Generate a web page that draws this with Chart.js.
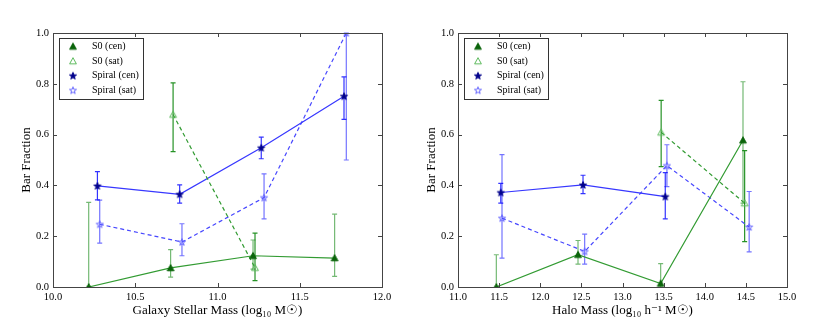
<!DOCTYPE html>
<html><head><meta charset="utf-8">
<script src="https://cdn.jsdelivr.net/npm/chart.js@4.4.1/dist/chart.umd.min.js"></script>
<style>
html,body{margin:0;padding:0;background:#fff;}
#wrap{width:830px;height:320px;display:flex;}
.cell{width:415px;height:320px;}
canvas{display:block;}
</style></head><body>
<div id="wrap"><div class="cell"><canvas id="c1" width="415" height="320"></canvas></div><div class="cell"><canvas id="c2" width="415" height="320"></canvas></div></div>
<script>
// ---------- data ----------
const seriesNames = ['S0 (cen)', 'S0 (sat)', 'Spiral (cen)', 'Spiral (sat)'];
const yTickValues = [0.0, 0.2, 0.4, 0.6, 0.8, 1.0];

// Left panel: galaxy stellar mass
const smTickValues = [10.0, 10.5, 11.0, 11.5, 12.0];
const smS0CenX = [10.217, 10.715, 11.216, 11.712];
const smS0CenY = [0.0, 0.075, 0.123, 0.114];
const smS0CenLo = [0.0, 0.039, 0.07, 0.042];
const smS0CenHi = [0.333, 0.147, 0.185, 0.287];
const smS0SatX = [10.73, 11.228];
const smS0SatY = [0.679, 0.076];
const smS0SatLo = [0.533, 0.025];
const smS0SatHi = [0.804, 0.212];
const smSpCenX = [10.27, 10.77, 11.266, 11.769];
const smSpCenY = [0.398, 0.365, 0.548, 0.751];
const smSpCenLo = [0.343, 0.33, 0.505, 0.66];
const smSpCenHi = [0.454, 0.402, 0.59, 0.827];
const smSpSatX = [10.284, 10.784, 11.283, 11.783];
const smSpSatY = [0.247, 0.177, 0.352, 1.0];
const smSpSatLo = [0.173, 0.123, 0.268, 0.5];
const smSpSatHi = [0.342, 0.249, 0.445, 1.0];

// Right panel: halo mass
const hmTickValues = [11.0, 11.5, 12.0, 12.5, 13.0, 13.5, 14.0, 14.5, 15.0];
const hmS0CenX = [11.466, 12.459, 13.464, 14.465];
const hmS0CenY = [0.0, 0.127, 0.014, 0.578];
const hmS0CenLo = [0.0, 0.09, 0.0, 0.33];
const hmS0CenHi = [0.127, 0.183, 0.092, 0.808];
const hmS0SatX = [13.47, 14.485];
const hmS0SatY = [0.609, 0.33];
const hmS0SatLo = [0.474, 0.179];
const hmS0SatHi = [0.735, 0.537];
const hmSpCenX = [11.52, 12.52, 13.52];
const hmSpCenY = [0.372, 0.402, 0.356];
const hmSpCenLo = [0.33, 0.368, 0.268];
const hmSpCenHi = [0.408, 0.44, 0.45];
const hmSpSatX = [11.535, 12.54, 13.54, 14.54];
const hmSpSatY = [0.271, 0.14, 0.478, 0.236];
const hmSpSatLo = [0.114, 0.09, 0.395, 0.138];
const hmSpSatHi = [0.521, 0.208, 0.56, 0.376];

// ---------- styling ----------
const FONT = "'Liberation Serif', 'DejaVu Serif', serif";
function makeMarker(kind, fill, stroke) {
  const c = document.createElement('canvas'); c.width = 10; c.height = 10;
  const g = c.getContext('2d');
  g.beginPath();
  if (kind === 'tri') {
    g.moveTo(5, 1.6); g.lineTo(8.4, 7.8); g.lineTo(1.6, 7.8); g.closePath();
  } else {
    for (let i = 0; i < 10; i++) {
      const r = i % 2 ? 1.5 : 3.7;
      const a = -Math.PI / 2 + i * Math.PI / 5;
      g.lineTo(5 + r * Math.cos(a), 5.3 + r * Math.sin(a));
    }
    g.closePath();
  }
  if (fill) { g.fillStyle = fill; g.fill(); }
  g.strokeStyle = stroke; g.lineWidth = 1; g.stroke();
  return c;
}
const styles = [
  {marker: makeMarker('tri', '#0a640a', '#0a640a'), line: 'rgb(50,155,50)', dash: [], err: 'rgba(0,128,0,0.55)'},
  {marker: makeMarker('tri', null, 'rgb(90,185,90)'), line: 'rgb(50,155,50)', dash: [4, 3], err: 'rgba(0,128,0,0.85)'},
  {marker: makeMarker('star', '#00008b', '#00008b'), line: 'rgb(55,55,255)', dash: [], err: 'rgba(0,0,255,0.8)'},
  {marker: makeMarker('star', null, 'rgb(100,100,255)'), line: 'rgb(70,70,255)', dash: [4, 3], err: 'rgba(0,0,255,0.55)'}
];

function makeDataset(idx, xs, ys, lo, hi) {
  const st = styles[idx];
  return {
    label: seriesNames[idx],
    data: xs.map((x, i) => ({x: x, y: ys[i]})),
    errLo: lo, errHi: hi, errColor: st.err,
    showLine: true,
    borderColor: st.line, borderWidth: 1.2, borderDash: st.dash,
    backgroundColor: st.line,
    pointStyle: st.marker, pointRadius: 4, pointHoverRadius: 4,
    markerImg: st.marker
  };
}

const errorBarPlugin = {
  id: 'errorBars',
  beforeDatasetsDraw(chart) {
    const ctx = chart.ctx, xs = chart.scales.x, ys = chart.scales.y;
    ctx.save();
    chart.data.datasets.forEach(ds => {
      ctx.strokeStyle = ds.errColor; ctx.lineWidth = 1.2; ctx.setLineDash([]);
      ds.data.forEach((p, i) => {
        const px = xs.getPixelForValue(p.x);
        const y1 = ys.getPixelForValue(ds.errLo[i]);
        const y2 = ys.getPixelForValue(ds.errHi[i]);
        ctx.beginPath();
        ctx.moveTo(px, y1); ctx.lineTo(px, y2);
        ctx.moveTo(px - 2.5, y1); ctx.lineTo(px + 2.5, y1);
        ctx.moveTo(px - 2.5, y2); ctx.lineTo(px + 2.5, y2);
        ctx.stroke();
      });
    });
    ctx.restore();
  }
};

const framePlugin = {
  id: 'frame',
  afterDraw(chart) {
    const ctx = chart.ctx, a = chart.chartArea, xs = chart.scales.x, ys = chart.scales.y;
    ctx.save();
    ctx.strokeStyle = '#444'; ctx.lineWidth = 1; ctx.setLineDash([]);
    ctx.strokeRect(Math.round(a.left) + 0.5, Math.round(a.top) + 0.5, Math.round(a.right - a.left), Math.round(a.bottom - a.top));
    ctx.beginPath();
    xs.ticks.forEach(t => {
      const px = Math.round(xs.getPixelForValue(t.value)) + 0.5;
      ctx.moveTo(px, a.bottom); ctx.lineTo(px, a.bottom - 4);
      ctx.moveTo(px, a.top); ctx.lineTo(px, a.top + 4);
    });
    ys.ticks.forEach(t => {
      const py = Math.round(ys.getPixelForValue(t.value)) + 0.5;
      ctx.moveTo(a.left, py); ctx.lineTo(a.left + 4, py);
      ctx.moveTo(a.right, py); ctx.lineTo(a.right - 4, py);
    });
    ctx.stroke();
    // legend box
    const lx = a.left + 6, ly = a.top + 5, lw = 84, lh = 61;
    ctx.fillStyle = '#fff';
    ctx.fillRect(lx, ly, lw, lh);
    ctx.strokeStyle = '#333';
    ctx.strokeRect(Math.round(lx) + 0.5, Math.round(ly) + 0.5, lw, lh);
    ctx.font = "10px " + FONT; ctx.fillStyle = '#000'; ctx.textBaseline = 'middle'; ctx.textAlign = 'left';
    chart.data.datasets.forEach((ds, i) => {
      const cy = ly + 8.5 + i * 14.6;
      const img = ds.markerImg;
      ctx.drawImage(img, lx + 14 - img.width / 2, cy - img.height / 2);
      ctx.fillText(ds.label, lx + 33, cy);
    });
    ctx.restore();
  }
};

function buildPanel(id, datasets, xMin, xMax, xTicks, xTitle, yTitlePad, leftW, rightPad) {
  return new Chart(document.getElementById(id), {
    type: 'scatter',
    data: {datasets: datasets},
    options: {
      responsive: false, animation: false,
      layout: {padding: {left: 0, top: 33, right: rightPad, bottom: 0}},
      plugins: {legend: {display: false}, tooltip: {enabled: false}},
      scales: {
        x: {
          type: 'linear', min: xMin, max: xMax,
          afterBuildTicks: s => { s.ticks = xTicks.map(v => ({value: v})); },
          afterFit: s => { s.height = 33; },
          grid: {display: false, drawTicks: false, tickLength: 0}, border: {display: false},
          ticks: {color: '#000', padding: 4, maxRotation: 0, autoSkip: false, font: {family: FONT, size: 10.5}, callback: v => Number(v).toFixed(1)},
          title: {display: true, text: xTitle, color: '#000', padding: {top: 0, bottom: 2}, font: {family: FONT, size: 13}}
        },
        y: {
          type: 'linear', min: 0, max: 1,
          afterBuildTicks: s => { s.ticks = yTickValues.map(v => ({value: v})); },
          afterFit: s => { s.width = leftW; },
          grid: {display: false, drawTicks: false, tickLength: 0}, border: {display: false},
          ticks: {color: '#000', padding: 4, font: {family: FONT, size: 10.5}, callback: v => Number(v).toFixed(1)},
          title: {display: true, text: 'Bar Fraction', color: '#000', padding: {top: yTitlePad, bottom: 0}, font: {family: FONT, size: 13}}
        }
      }
    },
    plugins: [errorBarPlugin, framePlugin]
  });
}

buildPanel('c1', [
  makeDataset(0, smS0CenX, smS0CenY, smS0CenLo, smS0CenHi),
  makeDataset(1, smS0SatX, smS0SatY, smS0SatLo, smS0SatHi),
  makeDataset(2, smSpCenX, smSpCenY, smSpCenLo, smSpCenHi),
  makeDataset(3, smSpSatX, smSpSatY, smSpSatLo, smSpSatHi)
], 10.0, 12.0, smTickValues, 'Galaxy Stellar Mass (log\u2081\u2080 M\u2609)', 19, 53, 33);

buildPanel('c2', [
  makeDataset(0, hmS0CenX, hmS0CenY, hmS0CenLo, hmS0CenHi),
  makeDataset(1, hmS0SatX, hmS0SatY, hmS0SatLo, hmS0SatHi),
  makeDataset(2, hmSpCenX, hmSpCenY, hmSpCenLo, hmSpCenHi),
  makeDataset(3, hmSpSatX, hmSpSatY, hmSpSatLo, hmSpSatHi)
], 11.0, 15.0, hmTickValues, 'Halo Mass (log\u2081\u2080 h\u207B\u00B9 M\u2609)', 9, 43, 43);
</script>
</body></html>
